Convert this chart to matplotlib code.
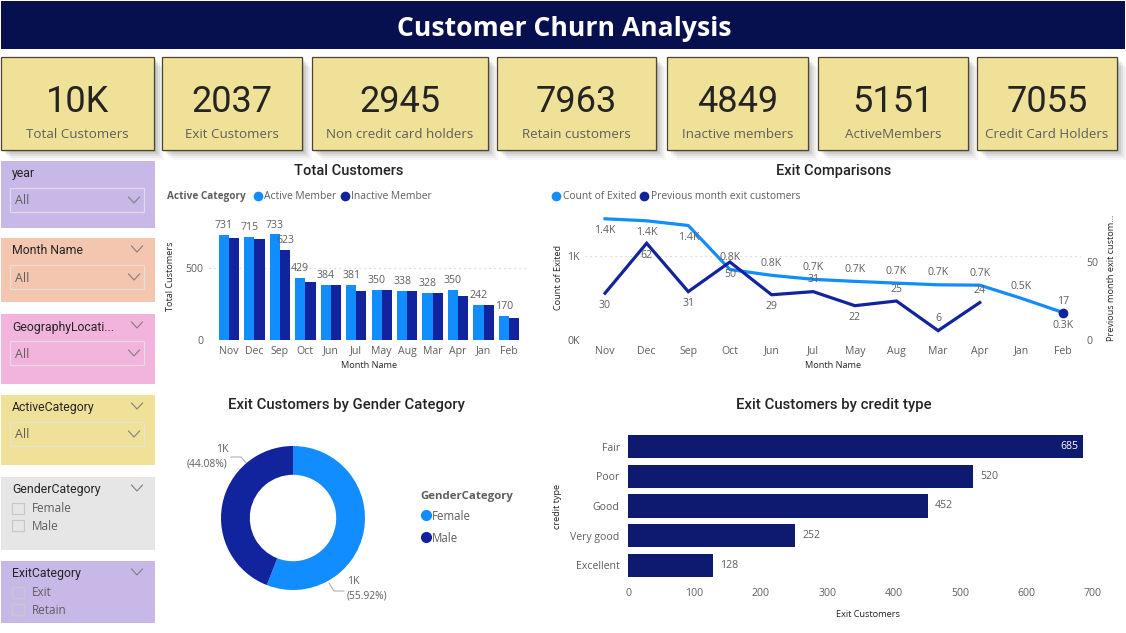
import numpy as np
import matplotlib
matplotlib.use("Agg")
from matplotlib import pyplot as plt
from matplotlib.patches import Rectangle

W, H = 1126, 633
BLUE = '#118DFF'
NAVY = '#12239E'
GREY = '#605E5C'
DARK = '#252423'
plt.rcParams['font.family'] = ['Open Sans', 'DejaVu Sans']

# data
kpi_values = ['10K', '2037', '2945', '7963', '4849', '5151', '7055']
kpi_names = ['Total Customers', 'Exit Customers', 'Non credit card holders', 'Retain customers',
             'Inactive members', 'ActiveMembers', 'Credit Card Holders']

months = ['Nov', 'Dec', 'Sep', 'Oct', 'Jun', 'Jul', 'May', 'Aug', 'Mar', 'Apr', 'Jan', 'Feb']
active = [731, 715, 733, 429, 384, 381, 350, 338, 328, 350, 242, 170]
inactive = [711, 700, 623, 404, 383, 340, 345, 338, 326, 303, 240, 155]

exited = [1443, 1419, 1363, 839, 770, 722, 698, 677, 657, 653, 496, 327]
prev_exit = [30, 62, 31, 50, 29, 31, 22, 25, 6, 24, np.nan, 17]

gender = ['Female', 'Male']
gender_share = [55.92, 44.08]

credit_types = ['Fair', 'Poor', 'Good', 'Very good', 'Excellent']
credit_exits = [685, 520, 452, 252, 128]

# layout, in pixels of the reference
card_boxes = [(1, 154), (162, 302), (312, 488), (497, 656), (667, 808), (818, 968), (977, 1117)]
exit_dy = [-12, -12, -12, 12, 12, 12, 12, 12, 12, 12, 12, -13]
prev_dy = [-12, -12, -12, -12, -12, 12, -12, 12, 12, 12, 0, 12]


def px_axes(left, top, right, bottom):
    ax = fig.add_axes([left / W, 1 - bottom / H, (right - left) / W, (bottom - top) / H])
    ax.patch.set_alpha(0)
    for s in ax.spines.values():
        s.set_visible(False)
    return ax


fig = plt.figure(figsize=(W / 100, H / 100), dpi=100, facecolor='white')
bg = fig.add_axes([0, 0, 1, 1])
bg.set_xlim(0, W)
bg.set_ylim(H, 0)
bg.axis('off')


def box(x0, y0, x1, y1, color, **kw):
    bg.add_patch(Rectangle((x0, y0), x1 - x0, y1 - y0, facecolor=color, **kw))


def dot(x, y, color, size=7):
    bg.plot([x], [y], 'o', color=color, ms=size, mew=0)


# banner
box(1, 1, 1125, 49, '#07104F', lw=0)
bg.text(564, 28.5, 'Customer Churn Analysis', color='white', fontsize=19.1, fontweight='bold',
        ha='center', va='center')

# kpi cards with a soft shadow
for (x0, x1), val, name in zip(card_boxes, kpi_values, kpi_names):
    for off, a in [(10, 0.03), (8, 0.04), (6, 0.06), (4, 0.08), (2, 0.10)]:
        box(x0 + off, 57 + off, x1 + off, 150 + off, 'black', alpha=a, lw=0)
    box(x0, 57, x1, 150, '#F0E199', edgecolor='#4A4430', lw=0.9)
    cx = (x0 + x1) / 2
    bg.text(cx, 102, val, color=DARK, fontsize=26, family='Roboto', ha='center', va='center')
    bg.text(cx, 134.5, name, color=GREY, fontsize=9.6, ha='center', va='center')

# white chart area over the shadows
box(158, 162, 535, 633, 'white', lw=0)
box(546, 162, 1118, 633, 'white', lw=0)


def chevron(x, y):
    bg.plot([x - 5.5, x, x + 5.5], [y - 3, y + 3, y - 3], color='#7F7F7F', lw=0.8)


def slicer(y0, y1, color, title, has_top_chevron=True, items=None):
    box(1, y0, 155, y1, color, lw=0)
    bg.text(12, y0 + 13, title, color=DARK, fontsize=8.8, family='Roboto', va='center')
    if has_top_chevron:
        chevron(137, y0 + 11)
    if items is None:
        bg.add_patch(Rectangle((10, y0 + 27), 134, 24, facecolor='none', edgecolor='#E4E4E4', lw=0.9, alpha=0.8))
        bg.text(15, y0 + 40, 'All', color=GREY, fontsize=9, va='center')
        chevron(134, y0 + 39)
    else:
        for k, item in enumerate(items):
            yy = y0 + 31 + k * 17.5
            bg.add_patch(Rectangle((12, yy - 5.5), 12, 11, facecolor='none', edgecolor='#C8C8C8', lw=0.9))
            bg.text(32, yy + 0.5, item, color=GREY, fontsize=8.5, va='center')


slicer(161, 228, '#C8B8E8', 'year', has_top_chevron=False)
slicer(238, 302, '#F4C6B0', 'Month Name')
slicer(314, 384, '#F2B4DC', 'GeographyLocati...')
slicer(395, 465, '#F0E199', 'ActiveCategory')
slicer(477, 550, '#E6E6E6', 'GenderCategory', items=['Female', 'Male'])
slicer(561, 623, '#C8B8E8', 'ExitCategory', items=['Exit', 'Retain'])

# chart titles
for x, y, t, size in [(349, 171, 'Total Customers', 10.5), (834, 171, 'Exit Comparisons', 10.5),
                      (346, 405, 'Exit Customers by Gender Category', 10.7),
                      (834, 405, 'Exit Customers by credit type', 10.7)]:
    bg.text(x, y, t, color=DARK, fontsize=size, family='Roboto', fontweight='medium', ha='center', va='center')

# legends
bg.text(167, 196.5, 'Active Category', color=GREY, fontsize=7.2, fontweight='bold', va='center')
dot(258, 195.5, BLUE)
bg.text(264, 196.5, 'Active Member', color=GREY, fontsize=7.4, va='center')
dot(345, 195.5, NAVY)
bg.text(351, 196.5, 'Inactive Member', color=GREY, fontsize=7.4, va='center')
dot(556, 195.5, BLUE)
bg.text(563, 196.5, 'Count of Exited', color=GREY, fontsize=7.4, va='center')
dot(644, 195.5, NAVY)
bg.text(651, 196.5, 'Previous month exit customers', color=GREY, fontsize=7.4, va='center')
bg.text(420, 497, 'GenderCategory', color=GREY, fontsize=8.2, fontweight='bold', va='center')
dot(426, 515, BLUE, 8)
bg.text(432, 516, 'Female', color=GREY, fontsize=8.3, va='center')
dot(426, 537, NAVY, 8)
bg.text(432, 538, 'Male', color=GREY, fontsize=8.3, va='center')

# total customers bars
ax1 = px_axes(209, 205, 529, 340)
pos = np.arange(len(months))
ax1.bar(pos - 0.2, active, 0.4, color=BLUE)
ax1.bar(pos + 0.2, inactive, 0.4, color=NAVY)
ax1.set_xlim(-20 / 25.45, 300 / 25.45)
ax1.set_ylim(0, 135 / 72 * 500)
ax1.set_yticks([0, 500])
ax1.set_xticks(pos, months)
ax1.grid(axis='y', color='#D0D0D0', ls=(0, (1, 3)), lw=0.9)
ax1.set_axisbelow(True)
ax1.tick_params(length=0, labelsize=7.6, labelcolor=GREY, pad=4)
ax1.set_xlabel('Month Name', fontsize=6.6, color=DARK, labelpad=3)
ax1.set_ylabel('Total Customers', fontsize=6.6, color=DARK)
ax1.yaxis.set_label_coords(-0.106, 0.47)
for i, v in enumerate(active):
    ax1.annotate(str(v), (i - 0.2, v), xytext=(0, 5), textcoords='offset points', ha='center',
                 fontsize=7.6, color=GREY)
ax1.annotate(str(inactive[2]), (2.2, inactive[2]), xytext=(0, 5), textcoords='offset points', ha='center',
             fontsize=7.6, color=GREY)

# exit comparison lines, two y axes
ax2 = px_axes(585, 205, 1081, 340)
ax2.plot(pos, exited, color=BLUE, lw=2.3, solid_joinstyle='round')
ax2.set_xlim(-20 / 41.64, 476 / 41.64)
ax2.set_ylim(0, 135 / 84 * 1000)
ax2.set_yticks([0, 1000], ['0K', '1K'])
ax2.set_xticks(pos, months)
ax2.grid(axis='y', color='#D0D0D0', ls=(0, (1, 3)), lw=0.9)
ax2.set_axisbelow(True)
ax2.tick_params(length=0, labelsize=7.6, labelcolor=GREY, pad=4)
ax2.set_xlabel('Month Name', fontsize=6.6, color=DARK, labelpad=3)
ax2.set_ylabel('Count of Exited', fontsize=6.6, color=DARK)
ax2.yaxis.set_label_coords(-0.044, 0.46)

ax2b = ax2.twinx()
ax2b.patch.set_alpha(0)
for s in ax2b.spines.values():
    s.set_visible(False)
ax2b.plot(pos, prev_exit, color=NAVY, lw=2.3, solid_joinstyle='miter')
ax2b.plot([pos[-1]], [prev_exit[-1]], 'o', color=NAVY, ms=7, mew=0)
ax2b.set_ylim(0, 135 / 78 * 50)
ax2b.set_yticks([0, 50])
ax2b.tick_params(length=0, labelsize=7.6, labelcolor=GREY, pad=4)
ax2b.set_ylabel('Previous month exit custom...', fontsize=6.6, color=DARK)
ax2b.yaxis.set_label_coords(1.053, 0.46)
for i, v in enumerate(exited):
    ax2.annotate(f'{v / 1000:.1f}K', (i, v), xytext=(0, exit_dy[i] * 0.72), textcoords='offset points',
                 ha='center', va='center', fontsize=7.6, color=GREY, zorder=5)
for i, v in enumerate(prev_exit):
    if not np.isnan(v):
        ax2b.annotate(str(v), (i, v), xytext=(0, prev_dy[i] * 0.72), textcoords='offset points',
                      ha='center', va='center', fontsize=7.6, color=GREY)

# donut
ax3 = px_axes(221, 446, 365, 590)
ax3.pie(gender_share, colors=[BLUE, NAVY], startangle=90, counterclock=False, radius=1,
        wedgeprops=dict(width=0.4, edgecolor='none'))
ax3.set_xlim(-1, 1)
ax3.set_ylim(-1, 1)
bg.plot([231, 241, 247], [457, 457, 464], color='#B0B0B0', lw=0.8)
bg.plot([329, 334, 344], [583, 591, 591], color='#B0B0B0', lw=0.8)
bg.text(222, 450, '1K', color=GREY, fontsize=7.6, ha='center', va='center')
bg.text(207, 464, f'({gender_share[1]:.2f}%)', color=GREY, fontsize=7.4, ha='center', va='center')
bg.text(353, 582, '1K', color=GREY, fontsize=7.6, ha='center', va='center')
bg.text(367, 596, f'({gender_share[0]:.2f}%)', color=GREY, fontsize=7.4, ha='center', va='center')

# credit type bars
ax4 = px_axes(628, 432, 1098, 580)
ypos = np.arange(len(credit_types))
ax4.barh(ypos, credit_exits, 0.78, color='#0E1A70')
ax4.set_ylim(len(credit_types) - 0.5, -0.5)
ax4.set_xlim(0, 470 / 0.6642)
ax4.set_yticks(ypos, credit_types)
ax4.set_xticks(range(0, 701, 100))
ax4.tick_params(length=0, labelsize=7.6, labelcolor=GREY, pad=6)
ax4.set_xlabel('Exit Customers', fontsize=6.6, color=DARK)
ax4.xaxis.set_label_coords(0.51, -0.2)
ax4.set_ylabel('credit type', fontsize=6.6, color=DARK, labelpad=6)
for i, v in enumerate(credit_exits):
    if v > 600:
        ax4.text(v - 7, i, str(v), color='white', fontsize=7.6, ha='right', va='center')
    else:
        ax4.text(v + 10, i, str(v), color=GREY, fontsize=7.6, ha='left', va='center')

fig.savefig('out.png', dpi=100, facecolor='white')
